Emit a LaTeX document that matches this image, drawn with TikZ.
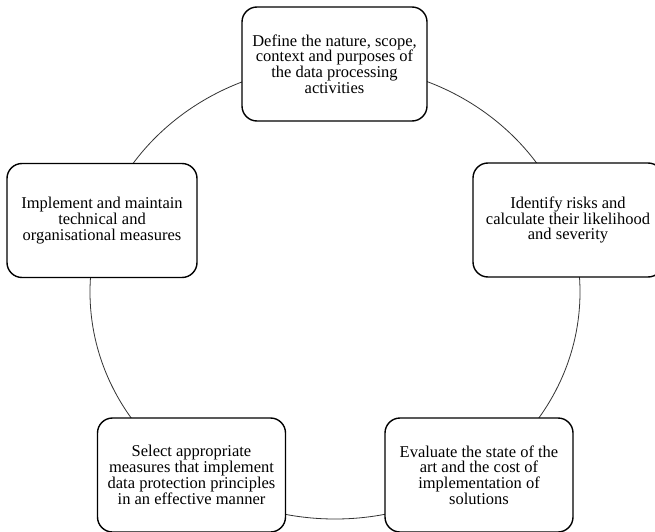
\documentclass[tikz,border=0pt]{standalone}
\usepackage{fontspec}
\setmainfont{Liberation Serif}
\begin{document}
\begin{tikzpicture}[x=1pt,y=-1pt,
  stagebox/.style={draw=black, line width=1.4pt, fill=white, rounded corners=15pt,
    minimum width=188pt, minimum height=114pt, inner sep=0pt, align=center,
    font=\fontsize{16.5}{15.8}\selectfont},
  cycleline/.style={draw=black!80, line width=0.8pt}]
\useasboundingbox (0,0) rectangle (655,532);
\clip (0,0) rectangle (655,532);
\fill[white] (0,0) rectangle (655,532);
\coordinate (c) at (335,292);
\draw[cycleline] (c) ellipse [x radius=245, y radius=227];
\node[stagebox, minimum width=185pt] (define) at (334.5,64)
  {Define the nature, scope,\\context and purposes of\\the data processing\\activities};
\node[stagebox, minimum width=190pt] (identify) at (568,220)
  {Identify risks and\\calculate their likelihood\\and severity};
\node[stagebox] (evaluate) at (479,475)
  {Evaluate the state of the\\art and the cost of\\implementation of\\solutions};
\node[stagebox] (select) at (191.5,475)
  {Select appropriate\\measures that implement\\data protection principles\\in an effective manner};
\node[stagebox, minimum width=190pt] (implement) at (102,220.5)
  {Implement and maintain\\technical and\\organisational measures};
\end{tikzpicture}
\end{document}
